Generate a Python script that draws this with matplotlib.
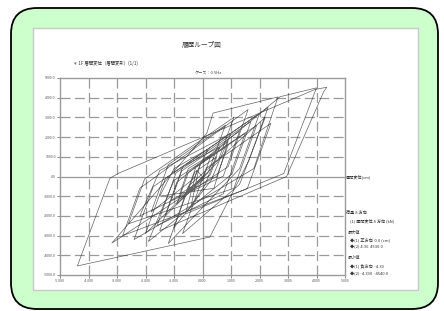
import matplotlib
matplotlib.use("Agg")
import matplotlib.pyplot as plt
from matplotlib.patches import FancyBboxPatch, Rectangle

plt.rcParams['font.family'] = ['Noto Sans CJK JP', 'DejaVu Sans']

# ---- data ----
disp_cm = [0,
           -0.5, -0.27, 0.5, 0.27,
           -0.8, -0.5, 0.3, 0.0,
           -0.9, -0.5, 0.9, 0.5,
           -1.1, -0.7, 0.6, 0.1,
           -0.4, -0.1, 0.9, 0.4,
           -1.5, -1.0, 0.2, -0.3,
           -1.8, -1.2, 0.8, 0.2,
           -1.3, -0.73, 1.3, 0.73,
           -2.2, -1.5, 1.0, 0.3,
           -1.0, -0.23, 1.5, 0.73,
           -1.6, -0.93, 1.7, 1.03,
           -1.9, -1.0, 1.9, 1.1,
           -2.6, -2.03, 1.1, 0.53,
           -2.0, -1.3, 2.0, 1.3,
           -1.2, -0.5, 2.2, 1.3,
           -0.7, 0.13, 2.4, 1.57,
           -2.8, -2.2, 1.6, 0.9,
           -3.18, 0.15, 0.37, 2.65, 1.8,
           -2.4, -1.73, 2.3, 1.63,
           0.26, -4.39, -3.25, -2.95, 3.95, 4.36, 4.25, 2.95,
           -1.5, -0.9, 2.72, 4.0, 2.85, -0.6, -0.2, 0.0]
force_kn = [0,
            -700, 220, 1000, 80,
            -900, 400, 1100, -200,
            -1400, 200, 1600, 0,
            -1200, 500, 1500, -400,
            -1500, 600, 1800, -600,
            -1000, 400, 1400, -100,
            -1800, 600, 2600, 200,
            -2000, 280, 2300, 20,
            -2000, 300, 2200, -200,
            -2600, 480, 2200, -880,
            -2500, 180, 2800, 120,
            -3300, -200, 2600, -600,
            -2400, -120, 3000, 720,
            -2900, -100, 3200, 400,
            -3400, -500, 3000, -400,
            -2900, 420, 2700, -620,
            -3000, -600, 3400, 500,
            -3380, 2190, 3220, 4040, 400,
            -3200, -520, 3500, 820,
            -3070, -4540, -90, 160, 4420, 4530, 4300, 0,
            -2750, -300, 4050, 4500, 150, -1900, 300, 0]

x_ticks = [-5, -4, -3, -2, -1, 0, 1, 2, 3, 4, 5]
y_ticks = [-5000, -4000, -3000, -2000, -1000, 0, 1000, 2000, 3000, 4000, 5000]

title = "履歴ループ図"
subtitle = "＊ 1F 層間変位（層間変形）(1/1)"
case_text = "ケース：0.5Hz"
x_label = "層間変位(cm)"
legend_lines = ["荷重 δ 方向", "(1) 層間変位 δ 方向 (kN)", "最大値",
                "◆(1) 正方向  0.0 (cm)", "◆(2) 4.36  4530.0", "最小値",
                "◆(1) 負方向  -4.39", "◆(2) -4.390  -4540.0"]

W, H = 444, 311
fig = plt.figure(figsize=(W / 100, H / 100), dpi=100)
fig.patch.set_facecolor('white')

def fx(px):
    return px / W

def fy(py):
    return 1 - py / H

# background axes in pixel units
bg = fig.add_axes([0, 0, 1, 1], zorder=-5)
bg.set_xlim(0, W)
bg.set_ylim(H, 0)
bg.axis('off')
frame = FancyBboxPatch((11, 8), 427, 301,
                       boxstyle="round,pad=0,rounding_size=26",
                       facecolor='#ccffcc', edgecolor='black', linewidth=1.3)
bg.add_patch(frame)
page = Rectangle((33, 28), 385, 262, facecolor='white',
                 edgecolor='#c8c8c8', linewidth=1.0)
bg.add_patch(page)

ax = fig.add_axes([fx(60), fy(275), fx(345) - fx(60), fy(78) - fy(275)], zorder=1)
ax.set_facecolor('white')
ax.set_xlim(-5, 5)
ax.set_ylim(-5000, 5000)

grid_c = '#9a9a9a'
for xv in x_ticks[1:-1]:
    if xv == 0:
        ax.axvline(xv, color=grid_c, lw=0.9, zorder=1)
    else:
        ax.axvline(xv, color=grid_c, lw=0.9, ls=(0, (8, 3.5)), zorder=1)
for yv in y_ticks[1:-1]:
    if yv == 0:
        ax.axhline(yv, color=grid_c, lw=0.9, zorder=1)
    else:
        ax.axhline(yv, color=grid_c, lw=0.9, ls=(0, (8, 3.5)), zorder=1)

ax.plot(disp_cm, force_kn, color='#222222', lw=0.5, alpha=0.7, zorder=3)

for s in ax.spines.values():
    s.set_color(grid_c)
    s.set_linewidth(1.0)
ax.set_xticks(x_ticks)
ax.set_yticks(y_ticks)
ax.set_xticklabels([f"{v:.3f}" for v in x_ticks], fontsize=2.6, color='#555555')
ax.set_yticklabels([f"{v:.1f}" for v in y_ticks], fontsize=2.6, color='#555555')
ax.tick_params(axis='both', length=2, width=0.6, color='#777777', pad=1)

fig.text(fx(202), fy(45), title, fontsize=4.8, ha='center', va='center', color='#333333')
fig.text(fx(73), fy(63), subtitle, fontsize=3.2, ha='left', va='center', color='#333333')
fig.text(fx(208), fy(73), case_text, fontsize=3.0, ha='center', va='center', color='#444444')
fig.text(fx(346), fy(177), x_label, fontsize=3.0, ha='left', va='center', color='#333333')

ys = [213, 221, 233, 240, 247, 258, 266, 274]
xs = [346, 350, 348, 350, 350, 348, 350, 350]
for t, xx, yy in zip(legend_lines, xs, ys):
    fig.text(fx(xx), fy(yy), t, fontsize=3.0, ha='left', va='center', color='#333333')

fig.savefig("out.png", dpi=100, facecolor='white')
